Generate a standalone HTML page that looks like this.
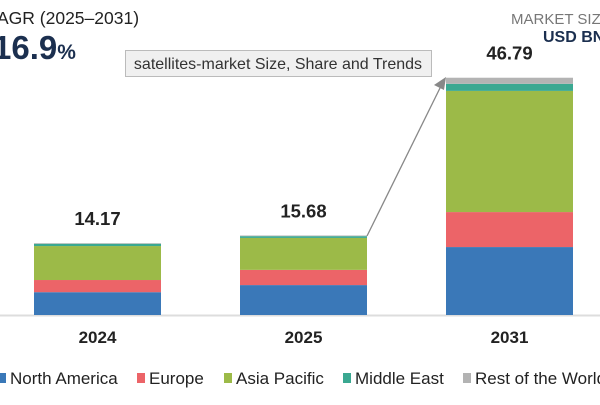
<!DOCTYPE html>
<html><head><meta charset="utf-8"><style>
body{margin:0;width:600px;height:400px;overflow:hidden;background:#fff;font-family:"Liberation Sans",sans-serif;}
</style></head><body>
<svg width="600" height="400" viewBox="0 0 600 400">
<text x="-3" y="24" font-size="17.5" fill="#222">AGR (2025–2031)</text>
<text x="-7" y="59" font-size="33" font-weight="bold" fill="#1b2f4f">16.9<tspan font-size="21">%</tspan></text>
<text x="511" y="24" font-size="15" fill="#777">MARKET SIZE</text>
<text x="543" y="42" font-size="16" font-weight="bold" fill="#1b2f4f">USD BN</text>
<line x1="0" y1="315.5" x2="600" y2="315.5" stroke="#ddd" stroke-width="2"/>
<g id="bars"></g>
<line x1="367" y1="236" x2="441" y2="86" stroke="#888" stroke-width="1.3"/>
<polygon points="446,77 434,85 444,90" fill="#888"/>
<g>
<rect x="125.5" y="50.5" width="306" height="26" fill="#f0f0f0" stroke="#bbb"/>
<text x="278" y="69" font-size="16" fill="#333" text-anchor="middle">satellites-market Size, Share and Trends</text>
</g>
<g id="legend"></g>
</svg>
<script>
const years=["2024","2025","2031"];
const totals=["14.17","15.68","46.79"];
const northAmerica=[4.5,5.9,13.4];
const europe=[2.4,3.0,6.9];
const asiaPacific=[6.7,6.3,23.9];
const middleEast=[0.45,0.35,1.4];
const restOfWorld=[0.12,0.13,1.2];
const seriesNames=["North America","Europe","Asia Pacific","Middle East","Rest of the World"];
const seriesData=[northAmerica,europe,asiaPacific,middleEast,restOfWorld];
const colors=["#3a78b8","#ec6468","#9cba48","#3aa891","#b3b3b3"];
const NS="http://www.w3.org/2000/svg";
const base=315, scale=5.07, barW=127;
const xPos=i=>34+i*206;
const yScale=v=>v*scale;
const g=document.getElementById('bars');
years.forEach((yr,i)=>{
  let y=base;
  seriesData.forEach((s,k)=>{
    const h=yScale(s[i]);
    y-=h;
    const r=document.createElementNS(NS,'rect');
    r.setAttribute('x',xPos(i));r.setAttribute('y',y);r.setAttribute('width',barW);r.setAttribute('height',h);r.setAttribute('fill',colors[k]);
    
    
    g.appendChild(r);
  });
  const t=document.createElementNS(NS,'text');
  t.setAttribute('x',xPos(i)+barW/2);t.setAttribute('y',y-18);t.setAttribute('font-size','18.5');t.setAttribute('font-weight','bold');t.setAttribute('text-anchor','middle');t.setAttribute('fill','#222');
  t.textContent=totals[i];
  
  
  g.appendChild(t);
  const l=document.createElementNS(NS,'text');
  l.setAttribute('x',xPos(i)+barW/2);l.setAttribute('y',343);l.setAttribute('font-size','17');l.setAttribute('font-weight','bold');l.setAttribute('text-anchor','middle');l.setAttribute('fill','#222');
  l.textContent=yr;
  
  
  g.appendChild(l);
});
const lg=document.getElementById('legend');
const lx=[2,141,228,347,467];
seriesNames.forEach((n,k)=>{
  const r=document.createElementNS(NS,'rect');
  r.setAttribute('x',lx[k]-4);r.setAttribute('y',373);r.setAttribute('width',8);r.setAttribute('height',10);r.setAttribute('fill',colors[k]);
  
  
  lg.appendChild(r);
  const t=document.createElementNS(NS,'text');
  t.setAttribute('x',lx[k]+8);t.setAttribute('y',384);t.setAttribute('font-size','17');t.setAttribute('fill','#222');
  t.textContent=n;
  
  
  lg.appendChild(t);
});
</script>
</body></html>
